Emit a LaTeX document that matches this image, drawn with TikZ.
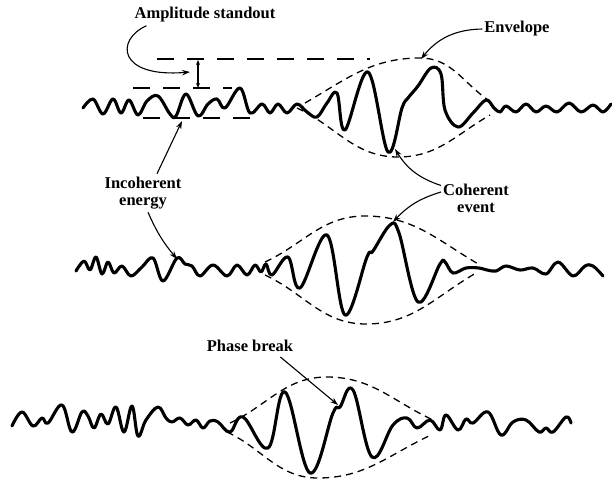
\documentclass[tikz,border=0pt]{standalone}
\usepackage{fontspec}
\setmainfont{Liberation Serif}
\usetikzlibrary{arrows.meta,positioning}

\begin{document}
\begin{tikzpicture}[x=1pt, y=-1pt,
  every node/.style={font=\bfseries\fontsize{16.5}{17}\selectfont, inner sep=0pt, align=center},
  wave/.style={line width=3.1pt, line join=round, line cap=round},
  envl/.style={line width=1.3pt, dash pattern=on 7pt off 5pt},
  level/.style={line width=1.3pt, dash pattern=on 17pt off 13pt},
  arr/.style={line width=1.1pt, -{Stealth[length=8pt, width=5.5pt]}}]
  \useasboundingbox (0,0) rectangle (612,482);

  % labels
  \node (amp) at (205,15) {Amplitude standout};
  \node (env) at (517,29) {Envelope};
  \node (incoh) at (143,193) {Incoherent\\energy};
  \node (coh) at (476,198) {Coherent\\event};
  \node (phase) at (250,346) {Phase break};

  % targets on the traces
  \coordinate (ampTip) at (190,72);
  \coordinate (envTip) at (421,59);
  \coordinate (incohTipA) at (182,121);
  \coordinate (incohTipB) at (177,259);
  \coordinate (cohTipA) at (395,149);
  \coordinate (cohTipB) at (393,222);
  \coordinate (phaseTip) at (338,405);
  \coordinate (sTop) at (198,60);
  \coordinate (sBot) at (198,88);

  % trace 1
  \draw[level] (157,59) -- (370,59);
  \draw[level] (133,88) -- (232,88);
  \draw[level] (143,118) -- (252,118);
  \draw[envl] (305,103) to[out=30,in=180] (420,58) to[out=0,in=145] (488,100);
  \draw[envl] (297,108) to[out=-25,in=180] (398,157) to[out=0,in=-150] (490,115);
  \draw[wave] plot[smooth, tension=0.6] coordinates {(83,108) (93,99) (103,114) (113,99)
    (121,113) (129,100) (138,115) (147,101) (158,96) (170,114) (176,116) (186,94) (198,116)
    (208,104) (217,99) (225,108) (240,88) (250,113) (262,104) (270,113) (278,104) (287,113)
    (297,104) (307,112) (317,117) (327,103) (337,93) (345,130) (368,72) (388,152) (402,108)
    (408,98) (418,86) (431,68) (441,74) (445,110) (458,127) (473,113) (486,100) (494,108)
    (500,112) (506,106) (516,112) (526,104) (536,112) (546,106) (557,112) (569,103)
    (581,112) (593,105) (603,112) (611,104)};

  % trace 2
  \draw[envl] (265,262) to[out=25,in=180] (365,216) to[out=0,in=150] (480,265);
  \draw[envl] (265,275) to[out=-25,in=180] (366,324) to[out=0,in=-150] (476,273);
  \draw[wave] plot[smooth, tension=0.6] coordinates {(76,271) (84,261) (90,270) (96,257)
    (102,274) (108,262) (114,273) (122,266) (131,276) (142,267) (153,258) (163,281)
    (177,258) (185,264) (192,266) (200,276) (213,265) (227,276) (237,265) (247,275)
    (255,265) (261,272) (266,264) (272,275) (288,257) (300,288) (327,235) (345,315)
    (367,257) (373,251) (390,225) (399,233) (418,302) (440,264) (445,262) (453,273)
    (466,268) (479,268) (487,270) (496,271) (506,266) (520,270) (533,268) (546,274)
    (558,262) (573,276) (585,266) (593,266) (603,276)};

  % trace 3
  \draw[envl] (230,423) to[out=25,in=180] (327,377) to[out=0,in=155] (433,420);
  \draw[envl] (227,432) to[out=-25,in=180] (318,478) to[out=0,in=-155] (431,435);
  \draw[wave] plot[smooth, tension=0.65] coordinates {(12,426) (22,412) (33,426) (42,418)
    (48,423) (62,405) (72,432) (82,412) (88,416) (94,428) (101,414) (108,424) (116,407)
    (124,432) (132,406) (138,436) (146,420) (158,407) (166,418) (172,422) (180,418)
    (188,425) (196,420) (203,428) (210,421) (218,422) (230,432) (243,417) (268,448)
    (285,392) (310,473) (333,413) (340,407) (353,390) (372,457) (393,425) (407,418)
    (417,428) (430,420) (440,430) (446,415) (458,430) (466,419) (473,423) (488,412)
    (501,435) (513,422) (526,420) (539,432) (546,428) (553,432) (566,417) (571,423)};

  % callouts
  \draw[arr] ([xshift=12pt,yshift=-3pt]amp.south west) .. controls (115,40) and (118,78) .. (ampTip);
  \draw[line width=1.1pt, {Stealth[length=5pt, width=4pt]}-{Stealth[length=5pt, width=4pt]}] (sTop) -- (sBot);
  \draw[arr] ([xshift=-2pt]env.west) to[bend right=25] (envTip);
  \draw[arr] ([xshift=14pt,yshift=3pt]incoh.north) -- (incohTipA);
  \draw[arr] ([xshift=5pt,yshift=-3pt]incoh.south) to[bend right=8] (incohTipB);
  \draw[arr] ([xshift=-2pt,yshift=-2pt]coh.north west) to[bend left=20] (cohTipA);
  \draw[arr] ([xshift=-2pt,yshift=6pt]coh.west) to[bend right=15] (cohTipB);
  \draw[arr] ([xshift=-13pt,yshift=-5pt]phase.south east) -- (phaseTip);
\end{tikzpicture}
\end{document}
